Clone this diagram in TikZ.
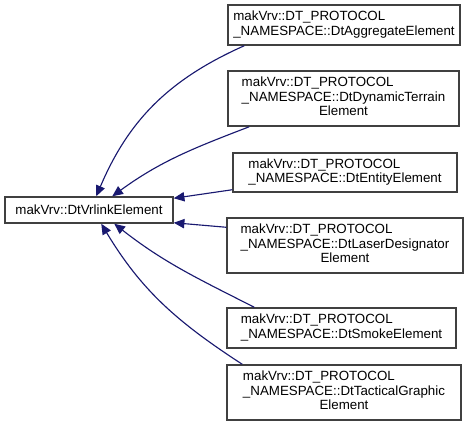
\documentclass[tikz,border=0pt]{standalone}
\usepackage{fontspec}
\setmainfont{Liberation Sans}
\usetikzlibrary{arrows.meta}
\usetikzlibrary{calc}
\definecolor{edgeblue}{HTML}{191970}
\tikzset{basic/.style={draw=black!75,line width=1.1pt,fill=white,inner sep=0pt,font=\fontsize{10pt}{10.9pt}\selectfont}}
\tikzset{edge/.style={draw=edgeblue,line width=0.85pt}}
\newcommand{\twoline}[1]{\begin{tabular}{@{}l@{}}makVrv::DT\_PROTOCOL\\\_NAMESPACE::#1\end{tabular}}
\newcommand{\threeline}[2]{\begin{tabular}{@{}l@{}}makVrv::DT\_PROTOCOL\\\_NAMESPACE::#1\\\multicolumn{1}{@{}c@{}}{#2}\end{tabular}}

\begin{document}
\begin{tikzpicture}[x=0.75pt, y=-0.75pt, >={Triangle[length=8pt,width=7pt]}]
\useasboundingbox (0,0) rectangle (465,426);

\node [basic, minimum width=126pt, minimum height=19.5pt] (base) at (89,210) {makVrv::DtVrlinkElement};

\foreach \n/\x/\y/\w/\h/\t in {
  agg/344/25/232/40/{\twoline{DtAggregateElement}},
  dyn/343.5/98.5/231/55/{\threeline{DtDynamicTerrain}{Element}},
  ent/345/172.5/224/39/{\twoline{DtEntityElement}},
  las/345/245.5/236/55/{\threeline{DtLaserDesignator}{Element}},
  smk/341.5/328/229/40/{\twoline{DtSmokeElement}},
  tac/344/392.5/234/55/{\threeline{DtTacticalGraphic}{Element}}}
\node [basic, minimum width=\w*0.75pt, minimum height=\h*0.75pt] (\n) at (\x,\y) {\t};

% inheritance edges
\draw [<-, edge] ($(base.north west)+(92,0)$) to[out=67, in=204] ($(agg.south west)+(17,0)$);
\draw [<-, edge] ($(base.north west)+(108,0)$) to[out=36, in=201] ($(dyn.south west)+(22,0)$);
\draw [<-, edge] ($(base.north east)+(0,2)$) -- ($(ent.south west)+(0,-3)$);
\draw [<-, edge] ($(base.south east)+(0,-1)$) -- ($(las.north west)+(0,10)$);
\draw [<-, edge] ($(base.south west)+(110,0)$) to[out=322, in=153] ($(smk.north west)+(28,0)$);
\draw [<-, edge] ($(base.south west)+(97,0)$) to[out=301, in=147] ($(tac.north west)+(16,0)$);
\end{tikzpicture}
\end{document}
